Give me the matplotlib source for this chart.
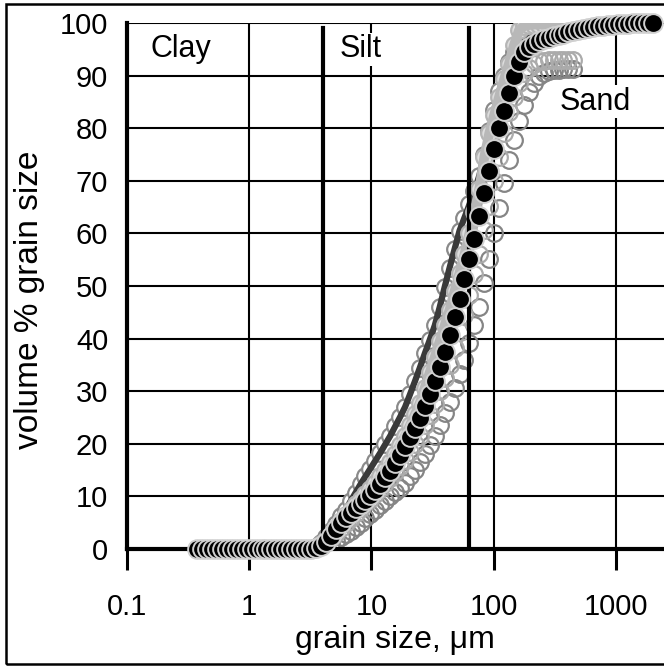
import matplotlib as mpl
from matplotlib import pyplot as plt
from matplotlib.patches import Rectangle

mpl.rcParams["font.family"] = ["Liberation Sans", "DejaVu Sans"]

# Channel sizes of the laser diffraction run, um
SIZES = [
    0.375, 0.412, 0.452, 0.496, 0.545, 0.598, 0.657, 0.721, 0.791, 0.869,
    0.954, 1.047, 1.149, 1.261, 1.385, 1.520, 1.669, 1.832, 2.010, 2.207,
    2.423, 2.660, 2.920, 3.205, 3.519, 3.863, 4.240, 4.655, 5.110, 5.610,
    6.158, 6.760, 7.421, 8.147, 8.943, 9.817, 10.78, 11.83, 12.99, 14.26,
    15.65, 17.18, 18.86, 20.70, 22.73, 24.95, 27.39, 30.07, 33.01, 36.24,
    39.78, 43.67, 47.94, 52.62, 57.77, 63.41, 69.61, 76.42, 83.89, 92.09,
    101.1, 111.0, 121.8, 133.7, 146.8, 161.2, 176.9, 194.2, 213.2, 234.1,
    256.9, 282.1, 309.6, 339.9, 373.1, 409.6, 449.7, 493.6, 541.9, 594.9,
    653.0, 716.8, 786.9, 863.9, 948.3, 1041, 1143, 1255, 1377, 1512,
    1660, 1822, 2000,
]
# Cumulative volume %, mean of the runs
CUM_MAIN = [
    0, 0, 0, 0, 0, 0, 0, 0, 0, 0,
    0, 0, 0, 0, 0, 0, 0, 0, 0, 0,
    0, 0, 0, 0.05, 0.2, 0.6, 1.3, 2.5, 3.8, 5.0,
    6.0, 6.9, 7.8, 8.6, 9.4, 10.3, 11.3, 12.4, 13.6, 14.9,
    16.3, 17.9, 19.5, 21.2, 23.0, 25.0, 27.1, 29.4, 31.9, 34.6,
    37.5, 40.7, 44.2, 47.6, 51.3, 55.2, 59.0, 63.4, 67.7, 71.9,
    76.0, 80.0, 83.3, 86.7, 90.0, 92.6, 94.4, 95.4, 96.0, 96.5,
    96.9, 97.2, 97.5, 97.8, 98.0, 98.3, 98.5, 98.7, 98.9, 99.1,
    99.3, 99.4, 99.5, 99.6, 99.7, 99.8, 99.85, 99.9, 99.95, 100,
    100, 100, 100,
]
# Individual runs
CUM_DARK = [
    0, 0, 0, 0, 0, 0, 0, 0, 0, 0,
    0, 0, 0, 0, 0, 0, 0, 0, 0, 0,
    0, 0, 0, 0, 0.3, 1.2, 2.3, 3.5, 4.8, 6.2,
    7.5, 9.1, 10.7, 12.3, 13.8, 15.3, 16.8, 18.3, 19.9, 21.5,
    23.3, 25.1, 27.0, 29.4, 31.9, 34.5, 37.2, 39.8, 42.5, 46.0,
    49.8, 53.5, 57.0, 60.5, 63.0, 65.5, 68.0, 71.0, 75.0, 79.5,
    83.5, 87.0, 90.0, 92.5, 94.5, 96.0, 97.0, 97.6, 98.0, 98.3,
    98.5, 98.7, 98.9, 99.0, 99.1, 99.2, 99.3, 99.4, 99.5, 99.55,
    99.6, 99.65, 99.7, 99.75, 99.8, 99.85, 99.9, 99.9, 99.95, 100,
    100, 100, 100,
]
CUM_LIGHT = [
    0, 0, 0, 0, 0, 0, 0, 0, 0, 0,
    0, 0, 0, 0, 0, 0, 0, 0, 0, 0,
    0, 0, 0, 0, 0.2, 0.9, 1.8, 2.8, 4.0, 5.3,
    6.5, 7.5, 8.5, 9.5, 10.5, 11.5, 12.5, 13.8, 15.1, 16.5,
    18.1, 19.8, 21.5, 23.5, 25.6, 27.8, 30.7, 33.6, 36.5, 39.5,
    42.5, 45.5, 49.0, 52.5, 56.0, 60.0, 64.0, 68.5, 74.5, 79.0,
    82.5, 86.0, 89.3, 92.3, 95.8, 98.6, 99.5, 99.6, 99.7, 99.7,
    99.75, 99.8, 99.8, 99.85, 99.9, 99.9, 99.95, 100, 100, 100,
    100, 100, 100, 100, 100, 100, 100, 100, 100, 100,
    100, 100, 100,
]
# these two stop at 449.7 um
CUM_MID = [
    0, 0, 0, 0, 0, 0, 0, 0, 0, 0,
    0, 0, 0, 0, 0, 0, 0, 0, 0, 0,
    0, 0, 0, 0, 0, 0.2, 0.5, 1.0, 1.6, 2.2,
    2.8, 3.5, 4.2, 5.0, 5.8, 6.7, 7.5, 8.3, 9.2, 10.0,
    10.8, 11.6, 12.5, 13.8, 15.1, 16.5, 18.1, 19.8, 21.5, 23.6,
    25.8, 28.0, 30.6, 33.3, 36.0, 39.2, 42.6, 46.0, 50.5, 55.2,
    60.0, 64.8, 69.5, 74.0, 77.8, 81.3, 84.5, 86.8, 88.6, 90.0,
    90.5, 90.8, 91.0, 91.1, 91.2, 91.2, 91.3,
]
CUM_PALE = [
    0, 0, 0, 0, 0, 0, 0, 0, 0, 0,
    0, 0, 0, 0, 0, 0, 0, 0, 0, 0,
    0, 0, 0, 0, 0.1, 0.6, 1.3, 2.0, 3.0, 4.0,
    5.0, 5.9, 6.9, 7.8, 8.7, 9.6, 10.5, 11.5, 12.5, 13.5,
    14.7, 15.8, 17.0, 18.5, 20.0, 21.5, 23.5, 25.5, 27.5, 30.0,
    32.5, 35.0, 38.2, 41.3, 44.5, 48.3, 52.2, 56.0, 60.7, 65.3,
    70.0, 74.5, 79.0, 83.0, 86.0, 88.5, 90.5, 91.5, 92.2, 92.7,
    92.8, 92.9, 92.9, 93.0, 93.0, 93.0, 93.0,
]

BOUNDS = [4, 63]  # clay/silt and silt/sand limits, um
CLASS_LABELS = ["Clay", "Silt", "Sand"]
CLASS_X = [0.155, 5.5, 350]
CLASS_Y = [95, 95, 85]
XTICKS = [0.1, 1, 10, 100, 1000]
XTICKLABELS = ["0.1", "1", "10", "100", "1000"]
YTICKS = [0, 10, 20, 30, 40, 50, 60, 70, 80, 90, 100]

W, H = 664, 667


def main():
    fig = plt.figure(figsize=(W / 100, H / 100), dpi=100)
    ax = fig.add_axes([127 / W, 1 - 549 / H, 1 - 127 / W, (549 - 23) / H])
    ax.set_xscale("log")
    ax.set_xlim(0.1, 2480)
    ax.set_ylim(0, 100)

    ring = dict(linestyle="none", marker="o", markersize=12, markeredgewidth=1.6)
    n_mid = len(CUM_MID)
    ax.plot(SIZES[:n_mid], CUM_MID, markerfacecolor="none",
            markeredgecolor="#858585", zorder=3, **ring)
    ax.plot(SIZES[:n_mid], CUM_PALE, markerfacecolor="none",
            markeredgecolor="#ababab", zorder=3.1, **ring)
    ax.plot(SIZES, CUM_DARK, markerfacecolor="white",
            markeredgecolor="#8a8a8a", zorder=3.2, **ring)
    ax.plot(SIZES, CUM_DARK, color="#3a3a3a", lw=4.5,
            solid_capstyle="round", zorder=3.3)
    ax.plot(SIZES, CUM_LIGHT, markerfacecolor="#dedede",
            markeredgecolor="#b5b5b5", zorder=3.4, **ring)
    ax.plot(SIZES, CUM_LIGHT, color="#b8b8b8", lw=7,
            solid_capstyle="round", zorder=3.5)

    # class limits
    for b in BOUNDS:
        ax.plot([b, b], [0, 99], color="black", lw=3, zorder=3.6)

    ax.plot(SIZES, CUM_MAIN, linestyle="none", marker="o", markersize=13.5,
            markerfacecolor="black", markeredgecolor="#d0d0d0",
            markeredgewidth=1.4, zorder=4, clip_on=False)

    for lab, x, y in zip(CLASS_LABELS, CLASS_X, CLASS_Y):
        ax.text(x, y, lab, fontsize=22, ha="left", va="center", zorder=2.5,
                bbox=dict(facecolor="white", edgecolor="none", pad=1))

    ax.set_xticks(XTICKS)
    ax.set_xticklabels(XTICKLABELS)
    ax.xaxis.set_minor_locator(mpl.ticker.NullLocator())
    ax.set_yticks(YTICKS)
    ax.tick_params(axis="x", direction="out", length=15, width=2.2,
                   pad=17, labelsize=21)
    ax.tick_params(axis="y", length=0, pad=13.5, labelsize=21)
    ax.grid(True, color="black", lw=1.5, zorder=1)
    ax.set_axisbelow(True)

    for side in ["top", "right"]:
        ax.spines[side].set_visible(False)
    for side in ["left", "bottom"]:
        ax.spines[side].set_linewidth(3)
        ax.spines[side].set_zorder(3.7)

    fig.text(395 / W, 1 - 640 / H, "grain size, μm", fontsize=23,
             ha="center", va="center")
    fig.text(30 / W, 1 - 300 / H, "volume % grain size", fontsize=24,
             ha="center", va="center", rotation=90)

    fig.patches.append(Rectangle((6 / W, 3 / H), 1.2, 1 - 7 / H,
                                 transform=fig.transFigure, fill=False,
                                 edgecolor="black", lw=1.8))
    fig.savefig("out.png", dpi=100)
    plt.close(fig)


if __name__ == "__main__":
    main()
